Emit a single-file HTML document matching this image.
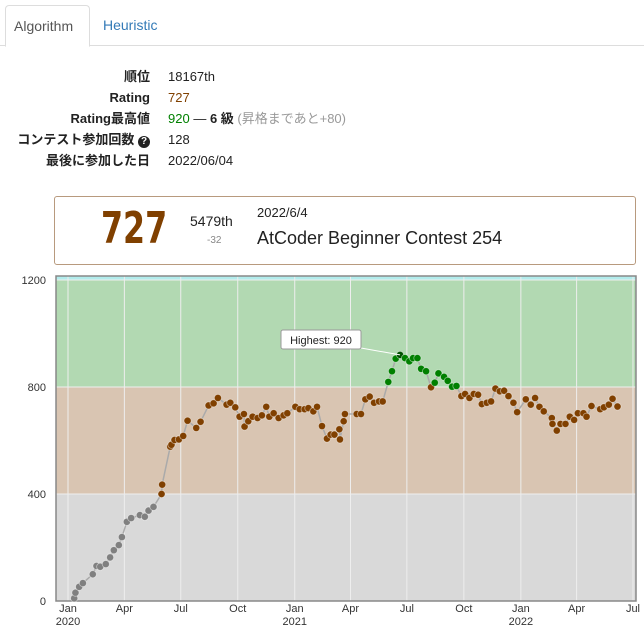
<!DOCTYPE html>
<html><head><meta charset="utf-8">
<style>
body{margin:0;width:644px;height:634px;background:#fff;font-family:"Liberation Sans","Noto Sans CJK JP",sans-serif;position:relative;overflow:hidden;color:#222}
.tabs{position:absolute;left:0;top:0;width:644px;height:45px;border-bottom:1px solid #ddd}
.tab{position:absolute;top:5px;height:40px;line-height:40px;font-size:14px;padding:0 8px}
.tab.active{left:5px;width:67px;border:1px solid #ddd;border-bottom:1px solid #fff;border-radius:4px 4px 0 0;background:#fff;color:#555}
.tab.h{left:95px;color:#337ab7}
.row{position:absolute;left:0;font-size:13px;height:20px;line-height:20px}
.row .k{position:absolute;right:0;width:150px;text-align:right;font-weight:bold;color:#222}
.row .v{position:absolute;left:168px;white-space:nowrap}
.card{position:absolute;left:54px;top:196px;width:580px;height:67px;border:1px solid #b89a7e;border-radius:3px}
</style></head><body>
<div class="tabs">
<div class="tab active">Algorithm</div>
<div class="tab h">Heuristic</div>
</div>
<div class="row" style="top:67px;width:150px"><span class="k">順位</span><span class="v">18167th</span></div>
<div class="row" style="top:88px;width:150px"><span class="k">Rating</span><span class="v" style="color:#804000">727</span></div>
<div class="row" style="top:109px;width:150px"><span class="k">Rating最高値</span><span class="v"><span style="color:#008000">920</span> ― <b>6 級</b> <span style="color:#999">(昇格まであと+80)</span></span></div>
<div class="row" style="top:130px;width:150px"><span class="k" style="width:160px;right:0">コンテスト参加回数 <span style="display:inline-block;width:12px;height:12px;border-radius:6px;background:#222;color:#fff;font-size:10px;line-height:12px;text-align:center">?</span></span><span class="v">128</span></div>
<div class="row" style="top:151px;width:150px"><span class="k">最後に参加した日</span><span class="v">2022/06/04</span></div>

<div class="card">
<div style="position:absolute;left:46px;top:6px;font-size:44px;font-weight:bold;color:#804000;transform:scaleX(0.8);transform-origin:left;font-family:'DejaVu Sans Condensed','Liberation Sans',sans-serif">727</div>
<div style="position:absolute;left:135px;top:16px;font-size:14px">5479th</div>
<div style="position:absolute;left:152px;top:38px;font-size:10px;color:#888">-32</div>
<div style="position:absolute;left:202px;top:8px;font-size:13px">2022/6/4</div>
<div style="position:absolute;left:202px;top:31px;font-size:18px">AtCoder Beginner Contest 254</div>
</div>

<svg id="chart" width="644" height="634" style="position:absolute;left:0;top:0"></svg>
<script>
const days=[10,12,18,24,40,46,52,61,68,74,82,87,95,102,116,124,130,138,151,152,165,167,172,179,186,193,207,214,227,235,242,256,262,270,277,284,285,291,298,306,313,320,325,332,340,348,354,367,374,382,388,396,402,410,418,424,430,438,439,445,447,466,473,480,487,494,502,508,517,523,529,536,544,551,557,564,570,578,586,592,598,607,613,620,627,635,641,648,655,662,668,676,683,690,697,704,711,719,725,739,747,754,761,768,781,782,789,795,803,810,817,823,832,837,845,859,865,873,879,887];
const ratings=[10,31,53,67,100,131,128,138,163,190,209,239,296,310,321,315,338,352,400,435,577,584,602,604,617,674,647,670,731,739,759,734,741,724,689,699,652,672,689,684,694,726,689,702,684,694,702,726,717,717,721,709,726,654,607,622,622,642,604,672,699,699,699,754,764,741,746,746,819,859,906,920,908,896,908,908,868,859,799,816,851,838,823,801,804,766,774,759,774,771,736,741,746,794,784,786,766,741,706,754,734,759,726,709,684,662,637,662,662,689,677,702,702,689,729,717,724,734,756,727];
const yTicks=[0,400,800,1200];
const xTickDays=[0,91,182,274,366,456,547,639,731,821,912];
const xTickLabels=["Jan","Apr","Jul","Oct","Jan","Apr","Jul","Oct","Jan","Apr","Jul"];
const yearLabels={0:"2020",366:"2021",731:"2022"};
const bands=[[0,400,"#d9d9d9"],[400,800,"#d9c5b2"],[800,1200,"#b2d9b2"],[1200,1217,"#b2ecec"]];
const L=56,R=636,T=276,B=601;
const X=d=>68+d*0.6195;
const Y=v=>B-v*(107/400);
const svg=document.getElementById('chart');
const NS="http://www.w3.org/2000/svg";
function mk(t,a){const e=document.createElementNS(NS,t);for(const k in a)e.setAttribute(k,a[k]);svg.appendChild(e);return e;}
bands.forEach(b=>{const e=mk('rect',{x:L,y:Math.max(T,Y(b[1])),width:R-L,height:Y(b[0])-Math.max(T,Y(b[1])),fill:b[2]});

});
yTicks.forEach(v=>{const l=mk('line',{x1:L,x2:R,y1:Y(v),y2:Y(v),stroke:'#eee','stroke-width':1});


const t=mk('text',{x:46,y:Y(v)+4,'text-anchor':'end','font-size':11,fill:'#333'});t.textContent=v;

});
xTickDays.forEach((d,i)=>{const x=X(d);const l=mk('line',{x1:x,x2:x,y1:T,y2:B,stroke:'#eee','stroke-width':1});


const t=mk('text',{x:x,y:612,'text-anchor':'middle','font-size':11,fill:'#333'});t.textContent=xTickLabels[i];


if(yearLabels[d]){const y=mk('text',{x:x,y:625,'text-anchor':'middle','font-size':11,fill:'#333'});y.textContent=yearLabels[d];

}});
const fr=mk('rect',{x:L,y:T,width:R-L,height:B-T,fill:'none',stroke:'#888','stroke-width':1.5});


const pts=days.map((d,i)=>X(d)+','+Y(ratings[i])).join(' ');
const pl=mk('polyline',{points:pts,fill:'none',stroke:'#aaa','stroke-width':1.5});


let hi=0;ratings.forEach((r,i)=>{if(r>ratings[hi])hi=i;});
days.forEach((d,i)=>{const r=ratings[i];const c=r>=800?'#008000':r>=400?'#804000':'#808080';
const e=mk('circle',{cx:X(d),cy:Y(r),r:3.6,fill:i==hi?'#005000':c,stroke:'rgba(255,255,255,0.5)','stroke-width':0.8});

});
const hx=X(days[hi]),hy=Y(ratings[hi]);
const ln=mk('line',{x1:361,y1:348,x2:hx,y2:hy,stroke:'#fff','stroke-width':1});


const bx=mk('rect',{x:281,y:330,width:80,height:19,fill:'#fff',stroke:'#999','stroke-width':1,rx:2});


const tt=mk('text',{x:321,y:344,'text-anchor':'middle','font-size':11,fill:'#222'});tt.textContent='Highest: '+ratings[hi];


</script>
</body></html>
